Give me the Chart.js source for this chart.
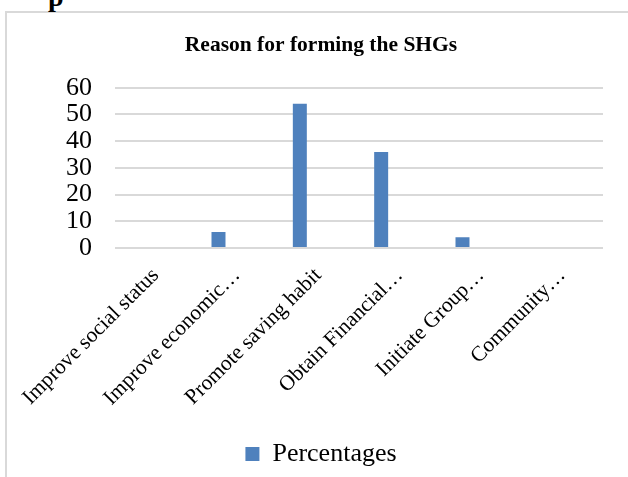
<!DOCTYPE html>
<html>
<head>
<meta charset="utf-8">
<script src="https://cdn.jsdelivr.net/npm/chart.js@4.4.1/dist/chart.umd.min.js"></script>
<style>
html, body { margin: 0; padding: 0; background: #fff; }
#wrap { position: relative; width: 628px; height: 477px; overflow: hidden; }
#frame { position: absolute; left: 5px; top: 11px; width: 700px; height: 600px;
         border-left: 2px solid #d9d9d9; border-top: 2px solid #d9d9d9; }
#frag { position: absolute; left: 48px; top: -19px; font: bold 28px 'Liberation Serif', serif; }
canvas { position: absolute; left: 0; top: 0; }
</style>
</head>
<body>
<div id="wrap">
  <div id="frame"></div>
  <div id="frag">p</div>
  <canvas id="graficoshg" width="628" height="477"></canvas>
</div>
<script>
var categories = ['Improve social status', 'Improve economic…', 'Promote saving habit',
                  'Obtain Financial…', 'Initiate Group…', 'Community…'];
var percentages = [0, 6, 54, 36, 4, 0];
var yTicks = [0, 10, 20, 30, 40, 50, 60];

var serif = "'Times New Roman', 'Liberation Serif', serif";

var ctx = document.getElementById('graficoshg').getContext('2d');
var graficoshg = new Chart(ctx, {
type: 'bar',
data: {
    labels: categories,
    datasets: [{
        label: 'Percentages',
        data: percentages,
        backgroundColor: '#4F81BD',
        categoryPercentage: 0.91,
        barPercentage: 0.378
    }, {
        // empty second series, keeps the bar left of the category centre like the original
        label: '',
        data: [],
        categoryPercentage: 0.91,
        barPercentage: 0.378
    }]
},
options: {
    responsive: false,
    animation: false,
    layout: { padding: { left: 39, right: 25, top: 0, bottom: 0 } },
    scales: {
        y: {
            min: yTicks[0],
            max: yTicks[yTicks.length - 1],
            afterBuildTicks: function (s) { s.ticks = yTicks.map(function (v) { return { value: v }; }); },
            afterFit: function (s) { s.width = 76; },
            grid: { color: '#d9d9d9', lineWidth: 2, drawTicks: false },
            border: { display: false },
            ticks: { autoSkip: false, padding: 23, color: '#000', font: { family: serif, size: 26, lineHeight: 1 } }
        },
        x: {
            afterFit: function (s) { s.height = 188; },
            grid: { display: false },
            border: { display: false },
            ticks: { minRotation: 45, maxRotation: 45, autoSkip: false, padding: 7, color: '#000',
                     font: { family: serif, size: 21.5 } }
        }
    },
    plugins: {
        title: {
            display: true,
            text: 'Reason for forming the SHGs',
            color: '#000',
            font: { family: serif, size: 21.5, weight: 'bold' },
            padding: { top: 33, bottom: 29 }
        },
        legend: {
            position: 'bottom',
            labels: {
                color: '#000',
                boxWidth: 14,
                boxHeight: 14,
                padding: 5,
                font: { family: serif, size: 26 },
                filter: function (item) { return item.text !== ''; }
            }
        },
        tooltip: { enabled: false }
    }
}
});
</script>
</body>
</html>
